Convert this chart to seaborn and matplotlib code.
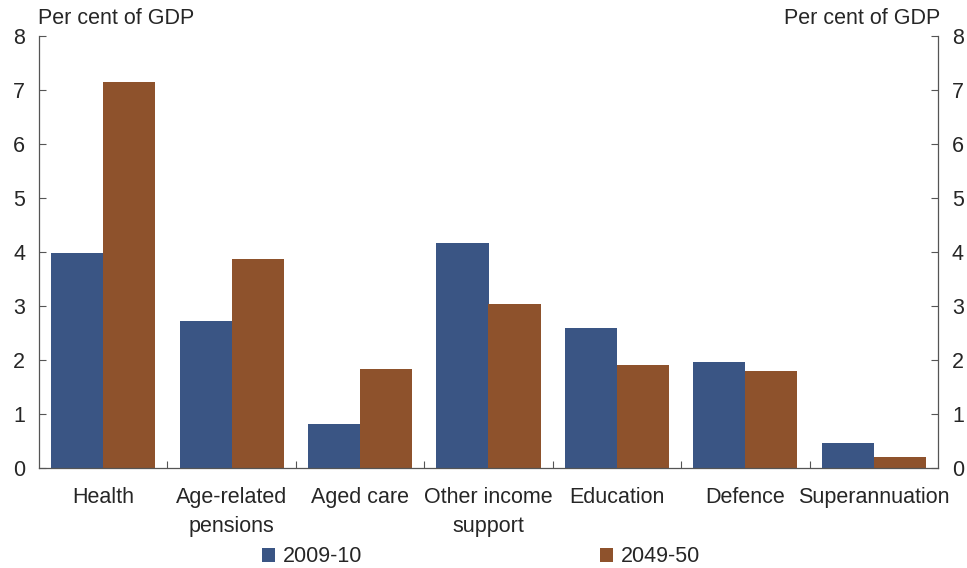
import matplotlib
matplotlib.use("Agg")
import matplotlib.pyplot as plt
import seaborn as sns
import pandas as pd

categories = ["Health", "Age-related\npensions", "Aged care", "Other income\nsupport",
              "Education", "Defence", "Superannuation"]
series_names = ["2009-10", "2049-50"]
values_2009 = [3.98, 2.72, 0.81, 4.16, 2.59, 1.96, 0.46]
values_2049 = [7.15, 3.87, 1.83, 3.04, 1.91, 1.80, 0.20]
colors = ["#3A5584", "#8E522C"]
yticks = [0, 1, 2, 3, 4, 5, 6, 7, 8]

sns.set_theme(style="white")
plt.rcParams['font.family'] = ['Liberation Sans', 'DejaVu Sans']

df = pd.DataFrame({
    "category": categories * 2,
    "series": [series_names[0]] * len(categories) + [series_names[1]] * len(categories),
    "value": values_2009 + values_2049,
})

fig = plt.figure(figsize=(9.67, 5.68), dpi=100)
ax = fig.add_axes([39 / 967, 1 - 468 / 568, (938 - 39) / 967, (468 - 36) / 568])
sns.barplot(data=df, x="category", y="value", hue="series", palette=colors,
            width=0.81, saturation=1, ax=ax, legend=True, edgecolor="none")

ax.set_ylim(0, 8)
ax.set_xlim(-0.5, len(categories) - 0.5)
ax.set_yticks(yticks)
ax.set_xlabel("")
ax.set_ylabel("")
fs = 15.5
ax.tick_params(axis="y", which="both", left=True, right=True, direction="in",
               labelleft=True, labelright=True, length=5, width=0.8, color="#555555",
               labelsize=fs, pad=10)
ax.set_xticks(range(len(categories)))
ax.set_xticklabels(categories, fontsize=fs, linespacing=1.5)
ax.tick_params(axis="x", which="major", length=0, pad=14)
ax.set_xticks([i + 0.5 for i in range(len(categories) - 1)], minor=True)
ax.tick_params(axis="x", which="minor", direction="in", length=5, width=0.8, color="#555555", bottom=True)
for s in ["left", "right", "bottom"]:
    ax.spines[s].set_visible(True)
    ax.spines[s].set_color("#555555")
    ax.spines[s].set_linewidth(0.9)
ax.spines["top"].set_visible(False)
ax.grid(False)

fig.text(38 / 967, 1 - 18 / 568, "Per cent of GDP", fontsize=fs, ha="left", va="center")
fig.text(940 / 967, 1 - 18 / 568, "Per cent of GDP", fontsize=fs, ha="right", va="center")

handles, labels = ax.get_legend_handles_labels()
ax.legend_.remove()
fig.legend(handles, labels, loc="center", bbox_to_anchor=(481 / 967, 1 - 557 / 568),
           ncol=2, frameon=False, fontsize=fs, handlelength=0.6, handleheight=0.6,
           handletextpad=0.35, columnspacing=11.05, borderaxespad=0, borderpad=0)

fig.savefig("out.png", dpi=100)
